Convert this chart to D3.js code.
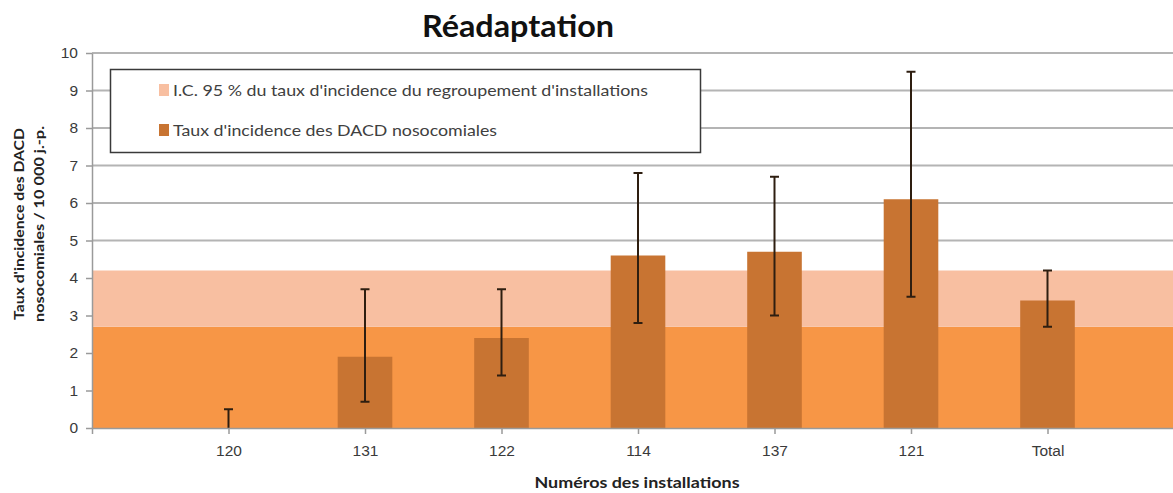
<!DOCTYPE html>
<html>
<head>
<meta charset="utf-8">
<script src="https://cdn.jsdelivr.net/npm/d3@7"></script>
<style>
  body { margin: 0; background: #fff; }
  svg { display: block; font-family: Lato, "Open Sans", sans-serif; }
</style>
</head>
<body>
<div class="container"></div>
<script>
// Chart values
const categories = ["120", "131", "122", "114", "137", "121", "Total"];
const rates = [0, 1.9, 2.4, 4.6, 4.7, 6.1, 3.4];
const errLow = [0, 0.7, 1.4, 2.8, 3.0, 3.5, 2.7];
const errHigh = [0.5, 3.7, 3.7, 6.8, 6.7, 9.5, 4.2];
const groupCI = [2.7, 4.2]; // I.C. 95 % du regroupement
const yTicks = [0, 1, 2, 3, 4, 5, 6, 7, 8, 9, 10];
const legendLabels = [
  "I.C. 95 % du taux d'incidence du regroupement d'installations",
  "Taux d'incidence des DACD nosocomiales"
];

const width = 1173;
const height = 493;
const marginLeft = 92;
const marginTop = 53;
const marginBottom = 65;

const barColor = "#c87432";
const ciColor = "#f8bfa1";
const baseColor = "#f79646";

const svg = d3.select(".container")
  .append("svg")
  .attr("width", width)
  .attr("height", height);

// one empty slot before and after the categories, like the original axis
const x = d3.scalePoint()
  .domain(["_start", ...categories, "_end"])
  .range([marginLeft, marginLeft + 136.5 * 8]);

const y = d3.scaleLinear()
  .domain([0, 10])
  .range([height - marginBottom, marginTop]);

const barWidth = x.step() * 0.4;

// gridlines
svg.append("g")
  .selectAll("line")
  .data(yTicks.filter(d => d > 0))
  .join("line")
  .attr("x1", marginLeft)
  .attr("x2", width)
  .attr("y1", d => y(d))
  .attr("y2", d => y(d))
  .attr("stroke", "#b4b4b4")
  .attr("stroke-width", 2);

// group confidence band and the area below it
svg.append("rect")
  .attr("x", marginLeft)
  .attr("width", width - marginLeft)
  .attr("y", y(groupCI[0]))
  .attr("height", y(0) - y(groupCI[0]))
  .attr("fill", baseColor);

svg.append("rect")
  .attr("x", marginLeft)
  .attr("width", width - marginLeft)
  .attr("y", y(groupCI[1]))
  .attr("height", y(groupCI[0]) - y(groupCI[1]))
  .attr("fill", ciColor);

// bars
svg.append("g")
  .selectAll("rect")
  .data(categories)
  .join("rect")
  .attr("x", (d) => x(d) - barWidth / 2)
  .attr("width", barWidth)
  .attr("y", (d, i) => y(rates[i]))
  .attr("height", (d, i) => y(0) - y(rates[i]))
  .attr("fill", barColor);

// error bars
const err = svg.append("g")
  .attr("stroke", "#2e1e10")
  .attr("stroke-width", 2);

err.selectAll(".stem")
  .data(categories)
  .join("line")
  .attr("class", "stem")
  .attr("x1", d => x(d))
  .attr("x2", d => x(d))
  .attr("y1", (d, i) => y(errLow[i]))
  .attr("y2", (d, i) => y(errHigh[i]));

err.selectAll(".capTop")
  .data(categories)
  .join("line")
  .attr("class", "capTop")
  .attr("x1", d => x(d) - 4.5)
  .attr("x2", d => x(d) + 4.5)
  .attr("y1", (d, i) => y(errHigh[i]))
  .attr("y2", (d, i) => y(errHigh[i]));

err.selectAll(".capBottom")
  .data(categories.filter((d, i) => errLow[i] > 0))
  .join("line")
  .attr("class", "capBottom")
  .attr("x1", d => x(d) - 4.5)
  .attr("x2", d => x(d) + 4.5)
  .attr("y1", d => y(errLow[categories.indexOf(d)]))
  .attr("y2", d => y(errLow[categories.indexOf(d)]));

// x axis
const xAxis = svg.append("g")
  .attr("transform", `translate(0,${y(0)})`)
  .call(d3.axisBottom(x).tickValues(categories).tickSize(6).tickSizeOuter(6).tickPadding(11));
xAxis.select(".domain").attr("stroke", "#9a9a9a").attr("stroke-width", 1.5);
xAxis.selectAll(".tick line").attr("stroke", "#9a9a9a").attr("stroke-width", 1.5);
xAxis.selectAll(".tick text")
  .attr("fill", "#3a3a3a")
  .style("font-size", "15.5px");

// y axis
const yAxis = svg.append("g")
  .attr("transform", `translate(${marginLeft},0)`)
  .call(d3.axisLeft(y).tickValues(yTicks).tickSize(6).tickSizeOuter(0).tickPadding(8));
yAxis.select(".domain").attr("stroke", "#9a9a9a").attr("stroke-width", 1.5);
yAxis.selectAll(".tick line").attr("stroke", "#9a9a9a").attr("stroke-width", 1.5);
yAxis.selectAll(".tick text")
  .attr("fill", "#3a3a3a")
  .style("font-size", "15.5px");

// title
svg.append("text")
  .attr("x", 518)
  .attr("y", 37)
  .attr("text-anchor", "middle")
  .style("font-size", "30px")
  .style("font-weight", "bold")
  .attr("fill", "#111")
  .attr("textLength", 192)
  .attr("lengthAdjust", "spacingAndGlyphs")
  .text("Réadaptation");

// axis titles
svg.append("text")
  .attr("x", 637)
  .attr("y", 488)
  .attr("text-anchor", "middle")
  .style("font-size", "15px")
  .style("font-weight", "bold")
  .attr("fill", "#222")
  .attr("textLength", 205)
  .attr("lengthAdjust", "spacingAndGlyphs")
  .text("Numéros des installations");

const yTitle = svg.append("g")
  .attr("transform", "translate(0,224) rotate(-90)");
yTitle.append("text")
  .attr("x", 0)
  .attr("y", 24)
  .attr("text-anchor", "middle")
  .style("font-size", "14px")
  .style("font-weight", "bold")
  .attr("fill", "#222")
  .attr("textLength", 192)
  .attr("lengthAdjust", "spacingAndGlyphs")
  .text("Taux d'incidence des DACD");
yTitle.append("text")
  .attr("x", 0)
  .attr("y", 44)
  .attr("text-anchor", "middle")
  .style("font-size", "14px")
  .style("font-weight", "bold")
  .attr("fill", "#222")
  .attr("textLength", 196)
  .attr("lengthAdjust", "spacingAndGlyphs")
  .text("nosocomiales  / 10 000 j.-p.");

// legend
const legend = svg.append("g");
legend.append("rect")
  .attr("x", 110.5)
  .attr("y", 69.5)
  .attr("width", 590)
  .attr("height", 83)
  .attr("fill", "#fff")
  .attr("stroke", "#3a3a3a")
  .attr("stroke-width", 1.5);

const legendColors = [ciColor, barColor];
const legendWidths = [475, 324];
legend.selectAll(".item")
  .data(legendLabels)
  .join("g")
  .attr("class", "item")
  .attr("transform", (d, i) => `translate(159,${90 + i * 40})`)
  .each(function (d, i) {
    const g = d3.select(this);
    g.append("rect")
      .attr("x", 0)
      .attr("y", -6)
      .attr("width", 10)
      .attr("height", 12)
      .attr("fill", legendColors[i]);
    g.append("text")
      .attr("x", 14)
      .attr("dy", "0.36em")
      .style("font-size", "16px")
      .attr("fill", "#404040")
      .attr("textLength", legendWidths[i])
      .attr("lengthAdjust", "spacingAndGlyphs")
      .text(d);
  });
</script>
</body>
</html>
